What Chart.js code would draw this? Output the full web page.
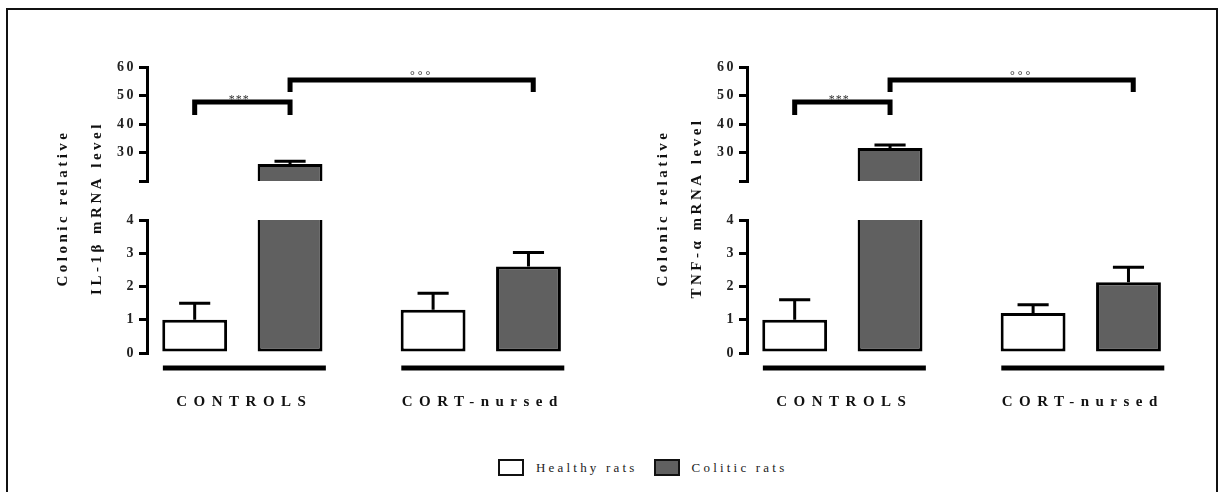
<!DOCTYPE html>
<html>
<head>
<meta charset="utf-8">
<script src="https://cdn.jsdelivr.net/npm/chart.js@4.4.1/dist/chart.umd.min.js"></script>
<style>
  html, body { margin: 0; padding: 0; background: #fff; }
  #fig { position: relative; width: 1219px; height: 492px; overflow: hidden; font-family: 'Liberation Serif', serif; }
  #frame { position: absolute; left: 6px; top: 8px; width: 1208px; height: 540px; border: 2px solid #111; }
  .panel { position: absolute; top: 0; }
  #legend { position: absolute; left: 498px; top: 459px; display: flex; align-items: center; font-size: 13px; letter-spacing: 3.2px; color: #222; }
  #legend .box { width: 22px; height: 13px; border: 2.5px solid #111; margin-right: 12px; }
  #legend .item { display: flex; align-items: center; margin-right: 16px; }
</style>
</head>
<body>
<div id="fig">
  <div id="frame"></div>
  <canvas id="il1b" class="panel" width="600" height="440" style="left:0px"></canvas>
  <canvas id="tnf" class="panel" width="600" height="440" style="left:600px"></canvas>
  <div id="legend">
    <div class="item"><div class="box" style="background:#fff"></div><span>Healthy rats</span></div>
    <div class="item"><div class="box" style="background:#606060"></div><span>Colitic rats</span></div>
  </div>
</div>
<script>
// Données (moyenne + erreur vers le haut)
const GROUPS = ['CONTROLS', 'CORT-nursed'];
const SERIES = ['Healthy rats', 'Colitic rats'];

const IL1B_HEALTHY = [1.0, 1.3];
const IL1B_HEALTHY_ERR = [0.5, 0.5];
const IL1B_COLITIC = [26.0, 2.6];
const IL1B_COLITIC_ERR = [0.9, 0.42];

const TNF_HEALTHY = [1.0, 1.2];
const TNF_HEALTHY_ERR = [0.6, 0.25];
const TNF_COLITIC = [31.6, 2.13];
const TNF_COLITIC_ERR = [1.0, 0.45];

const LOW_TICKS = [0, 1, 2, 3, 4];
const HIGH_TICKS = [20, 30, 40, 50, 60];

// crochets de significativité (axe du haut)
const BRACKETS = [
  { from: -0.2, to: 0.2, top: 47.7, leg: 43.2, label: '***' },
  { from: 0.2, to: 1.22, top: 55.4, leg: 51.2, label: '°°°' }
];

const GREY = '#606060';
const FONT = "'Liberation Serif', serif";

const toXY = arr => arr.map((v, i) => ({ x: i, y: v }));

function axisStyle(){
  return {
    position: 'left',
    stack: 'panel',
    border: { color: '#000', width: 3 },
    grid: { drawOnChartArea: false, drawTicks: true, tickLength: 8, color: '#000', lineWidth: 3 },
    ticks: { color: '#222', padding: 3, autoSkip: false, font: { family: FONT, size: 14, weight: 'bold' } },
    afterFit: s => { s.width = 107; }
  };
}

function decor(p){
  return {
    id: 'decor',
    beforeDraw(chart){ chart.ctx.letterSpacing = '2.5px'; },
    afterDatasetsDraw(chart){
      const ctx = chart.ctx;
      const yBot = chart.scales.yBot, yTop = chart.scales.yTop;
      ctx.save();
      ctx.strokeStyle = '#000';
      ctx.lineWidth = 3;
      [[p.healthy, p.healthyErr, 0], [p.colitic, p.coliticErr, 1]].forEach(([vals, errs, d]) => {
        const meta = chart.getDatasetMeta(d);
        vals.forEach((v, i) => {
          const bar = meta.data[i];
          const sc = v > yBot.max ? yTop : yBot;
          const y0 = sc.getPixelForValue(v), y1 = sc.getPixelForValue(v + errs[i]);
          const half = bar.width * 0.24;
          ctx.beginPath();
          ctx.moveTo(bar.x, y0); ctx.lineTo(bar.x, y1);
          ctx.moveTo(bar.x - half, y1); ctx.lineTo(bar.x + half, y1);
          ctx.stroke();
        });
      });
      ctx.restore();
    },
    afterDraw(chart){
      const ctx = chart.ctx;
      const x = chart.scales.x, yTop = chart.scales.yTop, yBot = chart.scales.yBot;
      const area = chart.chartArea;
      ctx.save();
      // crochets
      ctx.strokeStyle = '#000';
      ctx.lineWidth = 5;
      ctx.lineJoin = 'miter';
      BRACKETS.forEach(b => {
        const xa = x.getPixelForValue(b.from), xb = x.getPixelForValue(b.to);
        const yt = yTop.getPixelForValue(b.top), yl = yTop.getPixelForValue(b.leg);
        ctx.beginPath();
        ctx.moveTo(xa, yl); ctx.lineTo(xa, yt); ctx.lineTo(xb, yt); ctx.lineTo(xb, yl);
        ctx.stroke();
        ctx.fillStyle = '#333';
        ctx.textAlign = 'center';
        ctx.textBaseline = 'alphabetic';
        if (b.label === '***') {
          ctx.font = '12px ' + FONT;
          ctx.letterSpacing = '1px';
          ctx.fillText(b.label, (xa + xb) / 2 - 3, yt + 1);
        } else {
          ctx.font = '12px ' + FONT;
          ctx.letterSpacing = '3px';
          ctx.fillText(b.label, (xa + xb) / 2 + 10, yt - 1);
        }
      });
      // traits de groupe + libellés
      ctx.fillStyle = '#111';
      GROUPS.forEach((g, i) => {
        const cx = x.getPixelForValue(i) + 2;
        ctx.lineWidth = 5;
        ctx.beginPath();
        ctx.moveTo(cx - 81.5, area.bottom + 15);
        ctx.lineTo(cx + 81.5, area.bottom + 15);
        ctx.stroke();
        ctx.font = 'bold 15px ' + FONT;
        ctx.letterSpacing = '6.5px';
        ctx.textAlign = 'center';
        ctx.textBaseline = 'middle';
        ctx.fillText(g, cx, area.bottom + 49);
      });
      // titre de l'axe Y
      const cy = (yTop.top + yBot.bottom) / 2;
      ctx.font = 'bold 15px ' + FONT;
      ctx.letterSpacing = '3.5px';
      ctx.textAlign = 'center';
      ctx.textBaseline = 'middle';
      p.title.forEach((t, k) => {
        ctx.save();
        ctx.translate(area.left - 84 + k * 34, cy);
        ctx.rotate(-Math.PI / 2);
        ctx.fillText(t, 2, 0);
        ctx.restore();
      });
      ctx.restore();
    }
  };
}

function makePanel(id, p){
  const barBase = { borderColor: '#000', borderWidth: 3, borderSkipped: false, clip: 0,
                    categoryPercentage: 0.8, barPercentage: 0.68 };
  return new Chart(document.getElementById(id), {
    type: 'bar',
    data: {
      datasets: [
        { ...barBase, label: SERIES[0], data: toXY(p.healthy), yAxisID: 'yBot', stack: 'h', backgroundColor: '#fff' },
        { ...barBase, label: SERIES[1], data: toXY(p.colitic), yAxisID: 'yBot', stack: 'c', backgroundColor: GREY },
        { ...barBase, label: SERIES[1], data: toXY(p.colitic), yAxisID: 'yTop', stack: 'c', backgroundColor: GREY }
      ]
    },
    options: {
      responsive: false,
      animation: false,
      layout: { padding: { left: 40, top: 67, right: 0, bottom: 87 } },
      plugins: { legend: { display: false }, tooltip: { enabled: false } },
      scales: {
        x: { type: 'linear', min: -0.4, max: 1.5, display: false, offset: false,
             afterBuildTicks: s => { s.ticks = [{ value: 0 }, { value: 1 }]; } },
        yTop: { ...axisStyle(), weight: 3, stackWeight: 114, min: 20, max: 60,
                afterBuildTicks: s => { s.ticks = HIGH_TICKS.map(v => ({ value: v })); },
                ticks: { ...axisStyle().ticks, callback: v => v === 20 ? '' : v } },
        yGap: { display: false, position: 'left', stack: 'panel', weight: 2, stackWeight: 39,
                afterFit: s => { s.width = 107; } },
        yBot: { ...axisStyle(), weight: 1, stackWeight: 133, min: 0, max: 4,
                afterBuildTicks: s => { s.ticks = LOW_TICKS.map(v => ({ value: v })); } }
      }
    },
    plugins: [decor(p)]
  });
}

makePanel('il1b', {
  healthy: IL1B_HEALTHY, healthyErr: IL1B_HEALTHY_ERR,
  colitic: IL1B_COLITIC, coliticErr: IL1B_COLITIC_ERR,
  title: ['Colonic relative', 'IL-1β mRNA level']
});
makePanel('tnf', {
  healthy: TNF_HEALTHY, healthyErr: TNF_HEALTHY_ERR,
  colitic: TNF_COLITIC, coliticErr: TNF_COLITIC_ERR,
  title: ['Colonic relative', 'TNF-α mRNA level']
});
</script>
</body>
</html>
